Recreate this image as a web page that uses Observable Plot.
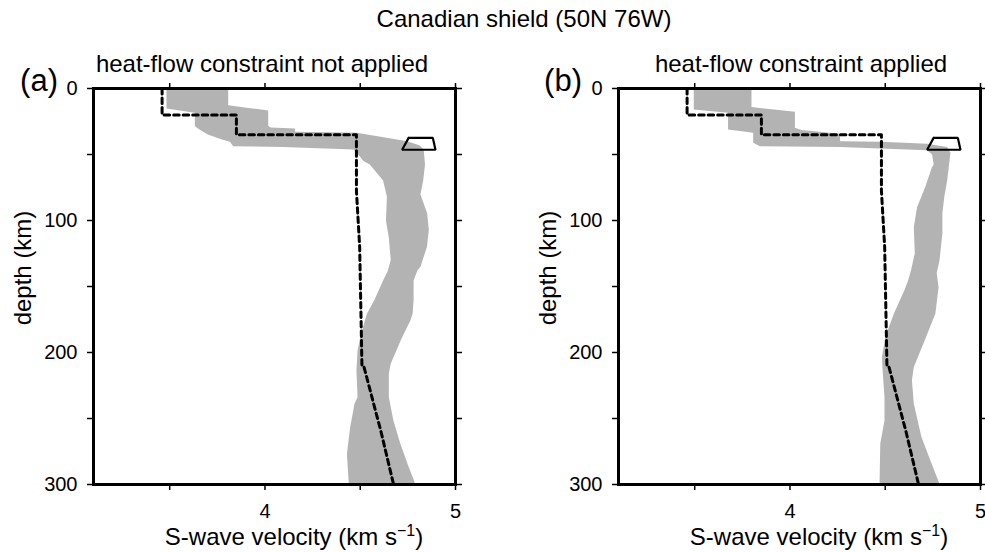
<!DOCTYPE html>
<html>
<head>
<meta charset="utf-8">
<script src="https://cdn.jsdelivr.net/npm/d3@7"></script>
<script src="https://cdn.jsdelivr.net/npm/@observablehq/plot@0.6"></script>
<style>
  html, body { margin: 0; padding: 0; background: #fff; }
  #fig { position: relative; width: 985px; height: 552px; overflow: hidden; }
  #fig > svg { position: absolute; top: 0; }
</style>
</head>
<body>
<div id="fig"></div>
<script>
// Axis ticks
const xTicks = [3.5, 4, 4.5, 5];
const yTicks = [0, 50, 100, 150, 200, 250, 300];

// Reference 1-D model (depth km, Vs km/s)
const refDepth = [0, 20, 20, 35, 35, 77.5, 120, 165, 210, 210, 260, 300];
const refVs    = [3.46, 3.46, 3.85, 3.85, 4.48, 4.48, 4.497, 4.503, 4.509, 4.518, 4.609, 4.675];

// Moho constraint box (depth km, Vs km/s)
const boxDepth = [37.4, 37.4, 46.4, 46.4, 37.4];
const boxVs    = [4.754, 4.881, 4.895, 4.72, 4.754];

// Range of accepted models, (a) heat-flow constraint not applied: [depth, Vs]
const bandALeft = [
  [0, 3.483], [15.2, 3.483], [15.6, 3.50], [18.4, 3.632], [28.5, 3.632], [30.5, 3.65],
  [34.8, 3.70], [38.5, 3.77], [40.4, 3.816], [43.7, 3.833], [44.4, 4.096], [46.2, 4.465],
  [50, 4.49], [55, 4.517], [57.6, 4.55], [69.7, 4.62], [82, 4.64], [100, 4.635],
  [113, 4.65], [130, 4.66], [138, 4.645], [145.5, 4.62], [160, 4.575], [170.7, 4.535],
  [188.4, 4.50], [198.5, 4.486], [213.6, 4.48], [233.8, 4.486], [238.9, 4.47],
  [256.6, 4.447], [276.8, 4.43], [300, 4.44]
];
const bandARight = [
  [0, 3.807], [12.6, 3.807], [16.7, 4.017], [28.5, 4.017], [29.5, 4.03], [30.3, 4.158],
  [32.8, 4.158], [33.6, 4.48], [36.9, 4.623], [39.9, 4.746], [43, 4.81], [46.2, 4.833],
  [57.6, 4.84], [70, 4.83], [80.3, 4.816], [94.3, 4.851], [107, 4.86], [120, 4.85],
  [135, 4.816], [137.9, 4.80], [145.5, 4.78], [160, 4.78], [170.7, 4.775], [175.8, 4.763],
  [190, 4.715], [208.6, 4.66], [216, 4.65], [233.8, 4.65], [251.5, 4.674], [269, 4.71],
  [285, 4.75], [300, 4.79]
];

// Range of accepted models, (b) heat-flow constraint applied: [depth, Vs]
const bandBLeft = [
  [0, 3.495], [15.9, 3.495], [18.4, 3.675], [31, 3.675], [33.6, 3.807], [41.1, 3.807],
  [43.7, 3.842], [44.4, 4.263], [46.7, 4.72], [50, 4.746], [57.6, 4.754], [59.6, 4.745],
  [74.7, 4.71], [89.9, 4.667], [105, 4.65], [125, 4.655], [137.9, 4.635], [145.5, 4.62],
  [153, 4.60], [170.7, 4.545], [188.4, 4.50], [203.5, 4.483], [211, 4.485], [233.8, 4.496],
  [251.5, 4.496], [269, 4.474], [300, 4.47]
];
const bandBRight = [
  [0, 3.798], [14.1, 3.798], [17.7, 4.026], [29.8, 4.026], [31.5, 4.06], [34.3, 4.263],
  [39.9, 4.263], [40.4, 4.474], [41.9, 4.72], [44.4, 4.825], [48.7, 4.842], [57.6, 4.835],
  [69.7, 4.825], [82, 4.81], [94.3, 4.80], [109.4, 4.80], [130, 4.785], [140, 4.77],
  [150.5, 4.78], [170.7, 4.763], [193.4, 4.70], [211, 4.65], [221, 4.64], [238.9, 4.65],
  [264, 4.69], [281.8, 4.737], [300, 4.786]
];

const FONT = "'Liberation Sans', Arial, Helvetica, sans-serif";

const refModel = refDepth.map((d, i) => ({depth: d, vs: refVs[i]}));
const mohoBox = boxDepth.map((d, i) => ({depth: d, vs: boxVs[i]}));
const polygon = (left, right) =>
  left.concat(right.slice().reverse()).map(([depth, vs]) => ({depth, vs}));

function panel(band, {width, marginLeft, marginRight}) {
  return Plot.plot({
    width, height: 552,
    marginLeft, marginRight, marginTop: 88, marginBottom: 68,
    style: {fontFamily: FONT, fontSize: "20px", background: "transparent", color: "#000", overflow: "visible"},
    x: {domain: [3.1, 5]},
    y: {domain: [0, 300], reverse: true},
    marks: [
      Plot.line(band, {x: "vs", y: "depth", fill: "#b3b3b3", stroke: "none"}),
      Plot.line(refModel, {x: "vs", y: "depth", stroke: "#000", strokeWidth: 3, strokeDasharray: "5.5,4"}),
      Plot.line(mohoBox, {x: "vs", y: "depth", stroke: "#000", strokeWidth: 2.2, strokeLinejoin: "miter"}),
      Plot.frame({stroke: "#000", strokeWidth: 3}),
      Plot.axisX({anchor: "bottom", ticks: xTicks, tickFormat: d => (d % 1 === 0 ? String(d) : ""),
        tickSize: 6, tickPadding: 13, strokeWidth: 1.5, label: null}),
      Plot.axisX({anchor: "top", ticks: xTicks, tickFormat: () => "", tickSize: 6, strokeWidth: 1.5, label: null}),
      Plot.axisY({anchor: "left", ticks: yTicks, tickFormat: d => (d % 100 === 0 ? String(d) : ""),
        tickSize: 6, tickPadding: 10, strokeWidth: 1.5, label: null}),
      Plot.axisY({anchor: "right", ticks: yTicks, tickFormat: () => "", tickSize: 6, strokeWidth: 1.5, label: null})
    ]
  });
}

const fig = document.getElementById("fig");
const svgA = panel(polygon(bandALeft, bandARight), {width: 480, marginLeft: 93, marginRight: 25});
svgA.style.left = "0px";
fig.appendChild(svgA);
const svgB = panel(polygon(bandBLeft, bandBRight), {width: 485, marginLeft: 118, marginRight: 5});
svgB.style.left = "500px";
fig.appendChild(svgB);

// Titles and axis labels
const labels = d3.select(fig).append("svg")
  .attr("width", 985).attr("height", 552)
  .style("left", "0px")
  .style("pointer-events", "none")
  .attr("font-family", FONT)
  .attr("fill", "#000");

labels.append("text").attr("x", 524).attr("y", 27).attr("text-anchor", "middle")
  .attr("font-size", 24).text("Canadian shield (50N 76W)");

const panels = [
  {tag: "(a)", title: "heat-flow constraint not applied", tagX: 58, titleX: 262, yLabX: 31, xLabX: 294},
  {tag: "(b)", title: "heat-flow constraint applied", tagX: 582, titleX: 801, yLabX: 556, xLabX: 819}
];

for (const p of panels) {
  labels.append("text").attr("x", p.tagX).attr("y", 91).attr("text-anchor", "end")
    .attr("font-size", 31).text(p.tag);
  labels.append("text").attr("x", p.titleX).attr("y", 72).attr("text-anchor", "middle")
    .attr("font-size", 24).text(p.title);
  labels.append("text").attr("transform", `translate(${p.yLabX},268) rotate(-90)`)
    .attr("text-anchor", "middle").attr("font-size", 24).text("depth (km)");
  const xl = labels.append("text").attr("x", p.xLabX).attr("y", 545).attr("text-anchor", "middle")
    .attr("font-size", 24);
  xl.append("tspan").text("S-wave velocity (km s");
  xl.append("tspan").attr("dy", -9).attr("font-size", 16).text("\u22121");
  xl.append("tspan").attr("dy", 9).text(")");
}
</script>
</body>
</html>
